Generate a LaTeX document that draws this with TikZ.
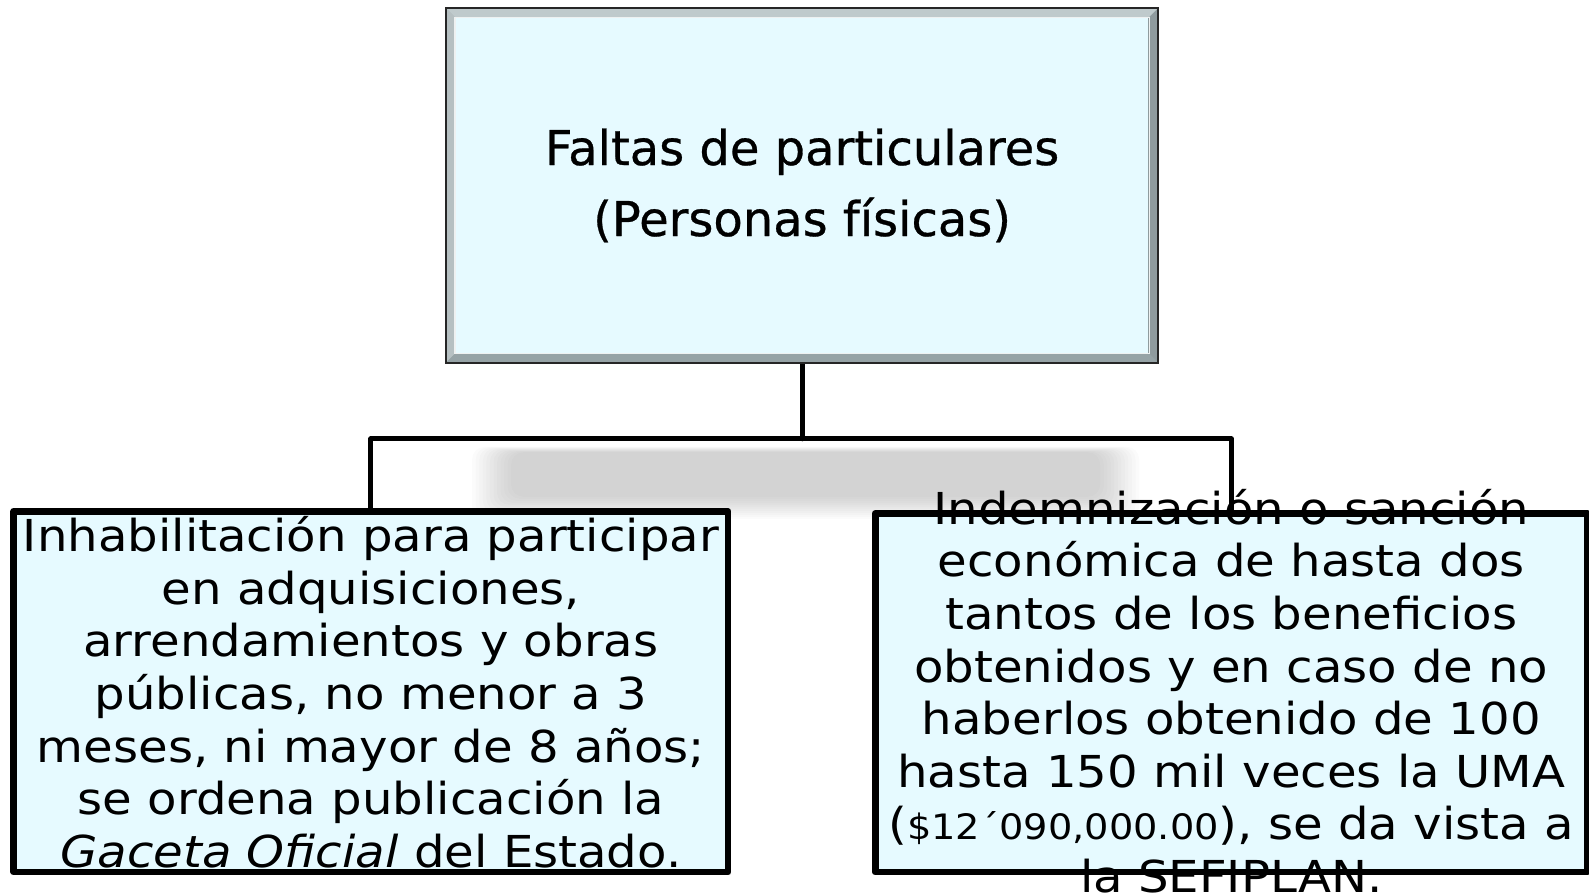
\documentclass[tikz,border=0pt]{standalone}
\usepackage{fontspec}
\setmainfont{DejaVu Sans}
\newfontfamily\lowfont[FakeStretch=1.095]{DejaVu Sans}
\newfontfamily\titlefont[FakeBold=0.6]{DejaVu Sans}
\usetikzlibrary{backgrounds}
\definecolor{boxfill}{HTML}{E6FAFF}
\definecolor{bevelmid}{HTML}{A9B7BA}
\definecolor{bevellight}{HTML}{BFCACC}
\definecolor{beveldark}{HTML}{96A3A6}
\definecolor{outerdark}{HTML}{262626}
\tikzset{
  conn/.style={line width=2.5pt, black, line join=round, line cap=round},
  boxborder/.style={line width=3.4pt, black, line join=round},
  lowbox/.style={fill=boxfill, draw=none, inner sep=0pt},
  lowtext/.style={inner sep=0pt, align=center, font=\lowfont\fontsize{22}{26.3}\selectfont},
  titletext/.style={fill=boxfill, inner sep=0pt, align=center,
    minimum width=346.1pt, minimum height=167.2pt,
    font=\titlefont\fontsize{24}{35.5}\selectfont},
}
\begin{document}
\begin{tikzpicture}[x=0.5067pt,y=-0.5067pt]
\useasboundingbox (0,0) rectangle (1568,882.2);
% top box bevel
\fill[bevelmid] (440,8) rectangle (1143,358);
\fill[bevellight] (440,8) -- (1143,8) -- (1133,18) -- (450,18) -- cycle;
\fill[bevellight!95!black] (440,8) -- (450,18) -- (450,348) -- (440,358) -- cycle;
\fill[beveldark] (440,358) -- (1143,358) -- (1133,348) -- (450,348) -- cycle;
\fill[beveldark!95!black] (1143,8) -- (1133,18) -- (1133,348) -- (1143,358) -- cycle;
\draw[white!80!bevelmid, line width=0.6pt] (449,17) rectangle (1134,349);
\node[titletext] (top) at (791.5,183) {Faltas de particulares\\(Personas físicas)};
\draw[outerdark, line width=1pt] (440,8) rectangle (1143,358);
% lower boxes
\node[lowbox, minimum width=356.7pt, minimum height=179.9pt] (lbox) at (366,682.5) {};
\node[lowbox, minimum width=355.7pt, minimum height=178.9pt] (rbox) at (1215,683.5) {};
\node[lowtext] (ltext) at (366,683) {Inhabilitación para participar\\
en adquisiciones,\\
arrendamientos y obras\\
públicas, no menor a 3\\
meses, ni mayor de 8 años;\\
se ordena publicación la\\
\textit{Gaceta Oficial} del Estado.};
\node[lowtext] (rtext) at (1215,682) {Indemnización o sanción\\
económica de hasta dos\\
tantos de los beneficios\\
obtenidos y en caso de no\\
haberlos obtenido de 100\\
hasta 150 mil veces la UMA\\
({\fontsize{17.5}{26.3}\selectfont\$12´090,000.00}), se da vista a\\
la SEFIPLAN.};
\draw[boxborder] (lbox.north west) rectangle (lbox.south east);
\draw[boxborder] (rbox.north west) rectangle (rbox.south east);
\coordinate (hub) at (791.5,433);
\begin{scope}[on background layer]
  \foreach \k in {0,...,11}{
    \fill[black, opacity=0.0145, rounded corners=6pt]
      (466+\k*3.5,441+\k*0.5) rectangle (1124-\k*3.5,512-\k*2);
  }
  \draw[conn] (top.south) -- (hub);
  \draw[conn] (lbox.north) |- (hub) -| (rbox.north);
\end{scope}
\end{tikzpicture}
\end{document}
